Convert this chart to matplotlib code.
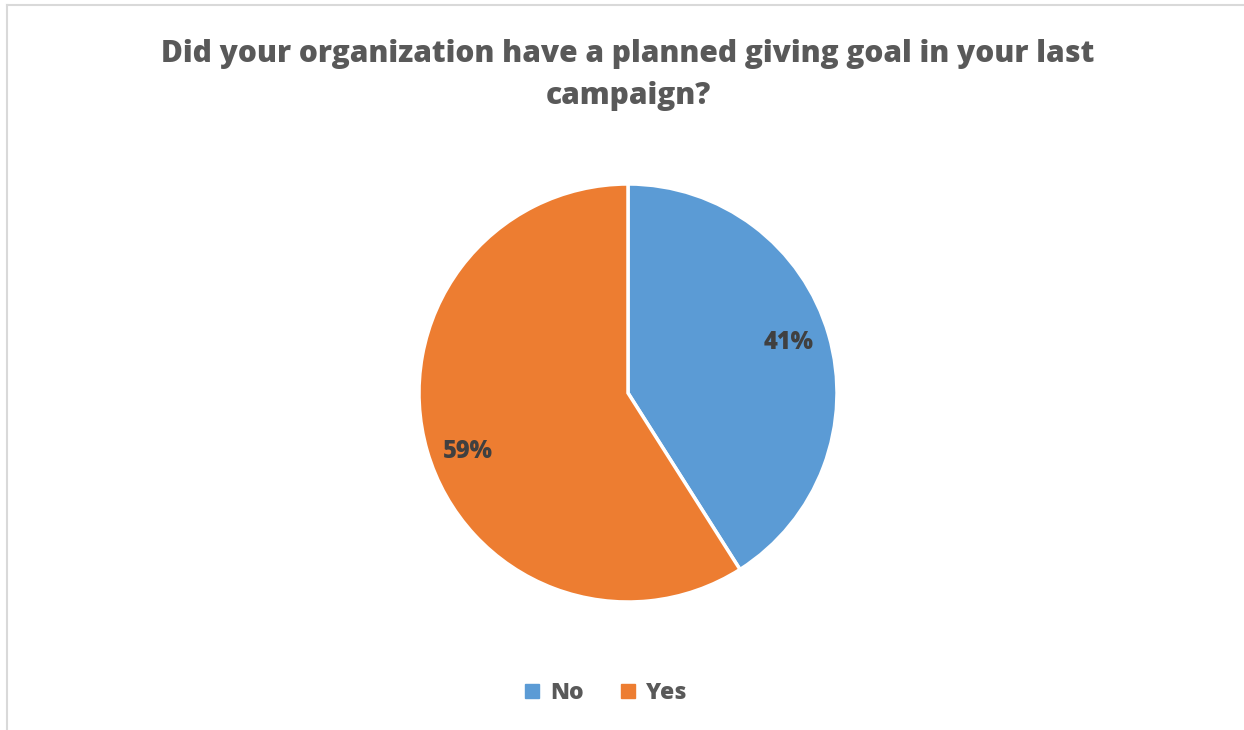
import matplotlib.pyplot as plt
from matplotlib.patches import Patch
from matplotlib.lines import Line2D

categories = ["No", "Yes"]
shares = [41, 59]
colors = ["#5B9BD5", "#ED7D31"]
title = "Did your organization have a planned giving goal in your last\ncampaign?"

W, H = 1244, 730
fig = plt.figure(figsize=(W / 100, H / 100), dpi=100)
fig.patch.set_facecolor("white")

# chart frame: top and left edges visible
fig.add_artist(Line2D([7 / W, 1], [1 - 5 / H, 1 - 5 / H], color="#D9D9D9", lw=1.5))
fig.add_artist(Line2D([7 / W, 7 / W], [0, 1 - 5 / H], color="#D9D9D9", lw=1.5))

font = ["Open Sans", "DejaVu Sans"]
text_color = "#595959"

fig.text(628 / W, 1 - 75 / H, title, ha="center", va="center", fontsize=21.5,
         fontweight="heavy", color=text_color, family=font, linespacing=1.55)

r = 209
cx, cy = 628, 393
ax = fig.add_axes([(cx - r) / W, 1 - (cy + r) / H, 2 * r / W, 2 * r / H])
wedges, texts, autotexts = ax.pie(
    shares, colors=colors, startangle=90, counterclock=False,
    autopct=lambda p: f"{p:.0f}%", pctdistance=0.8, radius=1,
    wedgeprops=dict(edgecolor="white", linewidth=2.5),
    textprops=dict(fontsize=17, fontweight="heavy", color="#404040", family=font),
)
# best-fit style nudge of the percentage labels
x0, y0 = autotexts[0].get_position()
autotexts[0].set_position((x0, y0 + 0.02))
x1, y1 = autotexts[1].get_position()
autotexts[1].set_position((x1, y1 - 0.055))

ax.set_xlim(-1, 1)
ax.set_ylim(-1, 1)
ax.set_aspect("equal")
ax.axis("off")

handles = [Patch(facecolor=c, edgecolor=c, label=l) for c, l in zip(colors, categories)]
leg = fig.legend(handles=handles, loc="center", bbox_to_anchor=(606 / W, 1 - 693 / H),
                 ncol=2, frameon=False, handlelength=0.6, handleheight=0.6,
                 handletextpad=0.5, columnspacing=1.6,
                 prop=dict(family=font, weight="heavy", size=16.5))
for t in leg.get_texts():
    t.set_color(text_color)

fig.savefig("out.png", dpi=100, facecolor="white")
